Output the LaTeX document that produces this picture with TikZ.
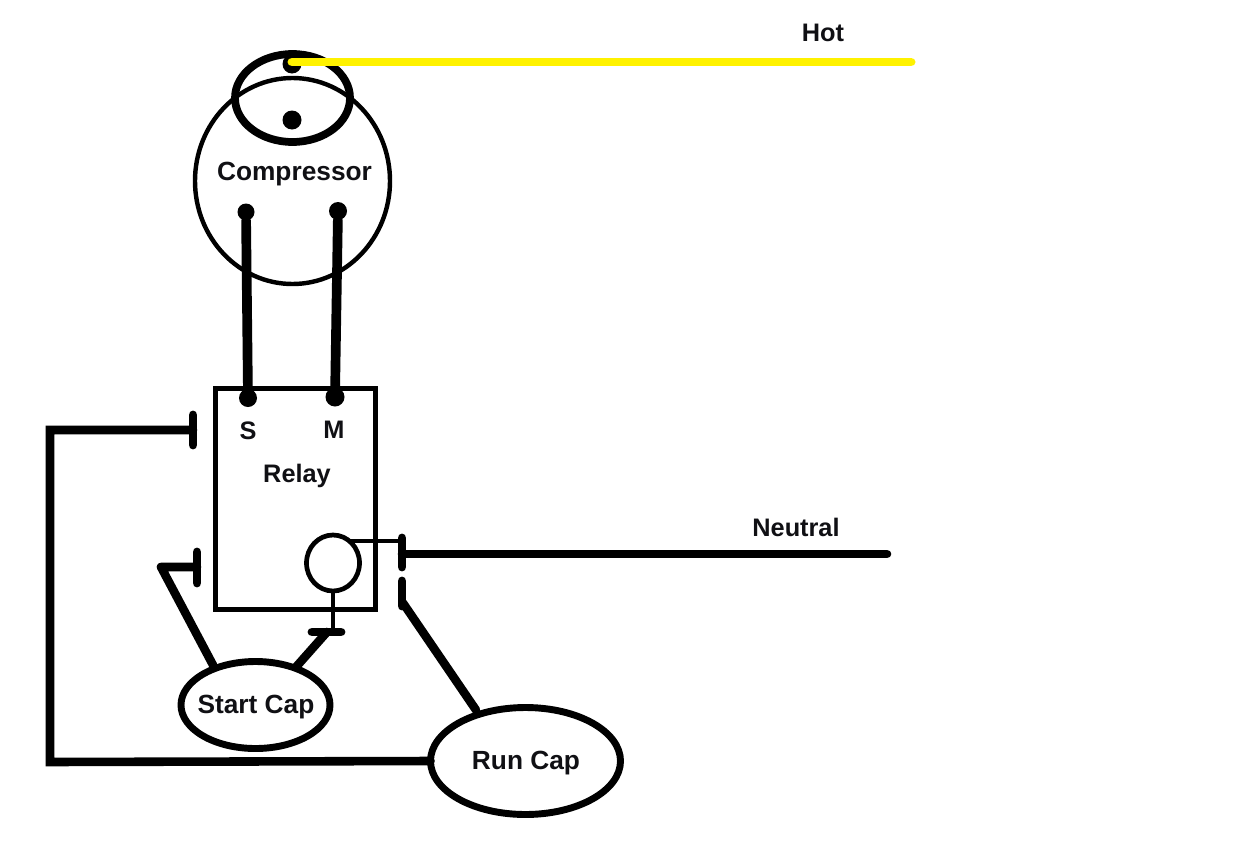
\documentclass[tikz,border=0pt]{standalone}
\usepackage{fontspec}
\setmainfont{Liberation Sans}
\usetikzlibrary{shapes.geometric}
\definecolor{hotwire}{RGB}{255,242,0}
\definecolor{ink}{RGB}{16,16,20}
\tikzset{
  lbl/.style={font=\fontsize{18.3}{20}\selectfont\bfseries, text=ink, inner sep=0pt},
  lblbig/.style={lbl,font=\fontsize{19}{20}\selectfont\bfseries},
  wire/.style={line width=6.2pt,line cap=round,line join=miter},
  heavy/.style={line width=7pt,line cap=round},
  term/.style={line width=6.4pt,line cap=round},
  fine/.style={line width=2.9pt},
  ring/.style={draw, ellipse, inner sep=0pt, outer sep=0pt},
  dot/.style={circle,fill=black,inner sep=0pt,outer sep=0pt}
}
\newcommand{\pxs}[1]{#1*0.0254cm}
\begin{document}
\begin{tikzpicture}[x=0.0254cm,y=-0.0254cm]
\useasboundingbox (0,0) rectangle (1236,845);
\fill[white] (0,0) rectangle (1236,845);
% compressor
\node[ring, line width=3.2pt, minimum width=\pxs{195}, minimum height=\pxs{206}] (comp) at (292.5,181) {};
\node[ring, line width=5.6pt, minimum width=\pxs{115}, minimum height=\pxs{88}] (top) at (292.5,98) {};
\coordinate (hotL) at (292,62);
\coordinate (hotR) at (911,62);
\node[dot,minimum size=\pxs{19}] (d1) at (292,64) {};
\node[dot,minimum size=\pxs{19}] (d2) at (292,120) {};
\draw[line width=6.5pt,hotwire,line cap=round] (hotL)--(hotR);
\node[lbl] (hot) at (823,33) {Hot};
\node[lblbig] (cl) at (294.5,174) {Compressor};
% relay
\node[draw,line width=3.4pt,minimum width=\pxs{160},minimum height=\pxs{221},inner sep=0pt,outer sep=0pt] (relay) at (295.5,499) {};
\node[dot,minimum size=\pxs{17}] (cs) at (246,212) {};
\node[dot,minimum size=\pxs{18}] (cm) at (338,211) {};
\node[dot,minimum size=\pxs{18}] (rs) at (248,398) {};
\node[dot,minimum size=\pxs{19}] (rm) at (335,397) {};
\draw[heavy] (cs)--(rs);
\draw[heavy] (cm)--(rm);
\node[lbl] (S) at (248,431) {S};
\node[lbl] (M) at (334,430) {M};
\node[lbl] (rl) at (297,476) {Relay};
% coil
\node[ring,line width=3.4pt,minimum width=\pxs{53},minimum height=\pxs{56}] (coil) at (333,563) {};
\coordinate (cj) at (351,541);
\coordinate (tn) at (402,554);
\coordinate (tnT) at (402,541);
\coordinate (tnA) at (402,538);
\coordinate (tnB) at (402,567);
\draw[fine] (cj) -- (tnT);
\draw[term] (tnA)--(tnB);
\coordinate (nr) at (887,554);
\draw[wire] (tn)--(nr);
\node[lbl] (nl) at (796,527) {Neutral};
\coordinate (bar1) at (312,632);
\coordinate (bar2) at (341,632);
\coordinate (barm) at (333,632);
\draw[fine] (coil.south) -- (barm);
\draw[term] (bar1)--(bar2);
% caps
\node[ring,line width=5pt,minimum width=\pxs{149},minimum height=\pxs{87}] (sc) at (255.5,705) {};
\node[lblbig] (sct) at (256,707) {Start Cap};
\node[ring,line width=5pt,minimum width=\pxs{190},minimum height=\pxs{107}] (rc) at (525.5,761) {};
\node[lblbig] (rct) at (526,763) {Run Cap};
% left terminals
\coordinate (t1a) at (193,415);
\coordinate (t1b) at (193,445);
\coordinate (t1m) at (193,430);
\coordinate (lc1) at (50,430);
\coordinate (lc2) at (50,762);
\draw[term] (t1a)--(t1b);
\draw[wire] (t1m)--(lc1)--(lc2)--(rc.west);
\coordinate (t2a) at (197,552);
\coordinate (t2b) at (197,583);
\coordinate (t2m) at (197,567);
\coordinate (lk) at (161,567);
\draw[term] (t2a)--(t2b);
\draw[wire,line join=round] (t2m)--(lk)--(213,665);
\coordinate (sj) at (327,632);
\coordinate (se) at (296,667);
\draw[wire] (sj)--(se);
\coordinate (t3a) at (402,581);
\coordinate (t3b) at (402,606);
\coordinate (t3j) at (403,603);
\coordinate (re) at (476,710);
\draw[term] (t3a)--(t3b);
\draw[wire] (t3j)--(re);
\end{tikzpicture}
\end{document}
